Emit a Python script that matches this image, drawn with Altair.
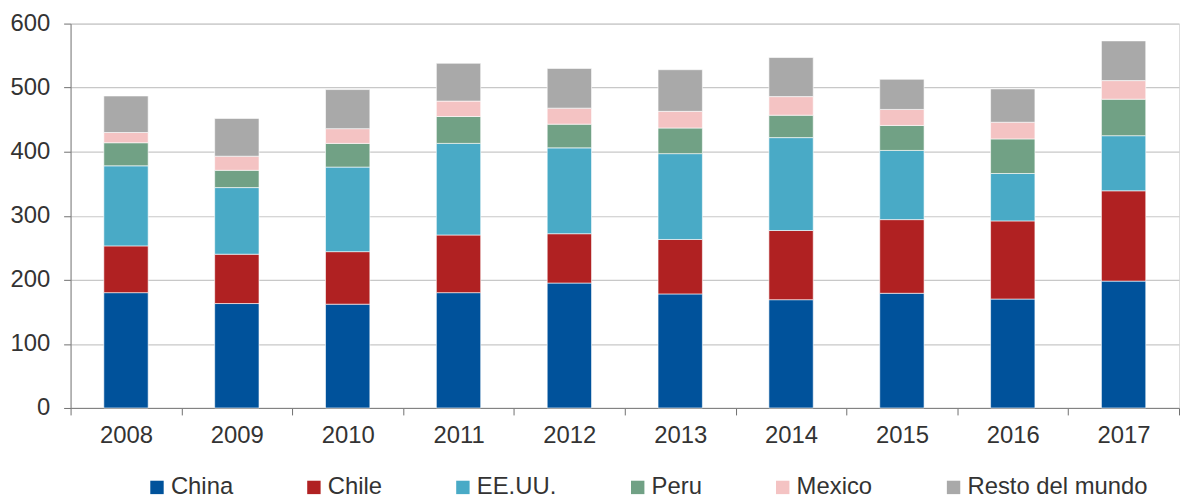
import altair as alt
import pandas as pd

years = ["2008", "2009", "2010", "2011", "2012", "2013", "2014", "2015", "2016", "2017"]
series = ["China", "Chile", "EE.UU.", "Peru", "Mexico", "Resto del mundo"]
china = [180, 163, 162, 180, 195, 178, 169, 179, 170, 198]
chile = [73, 77, 82, 90, 77, 85, 108, 115, 122, 141]
eeuu = [125, 104, 132, 143, 134, 134, 145, 108, 74, 86]
peru = [36, 27, 37, 42, 37, 40, 35, 39, 54, 57]
mexico = [16, 22, 23, 24, 25, 26, 29, 25, 26, 29]
resto = [57, 59, 61, 59, 62, 65, 61, 47, 52, 62]
colors = ["#00529B", "#B02122", "#49AAC6", "#71A185", "#F4C3C3", "#A9A9A9"]

values = [china, chile, eeuu, peru, mexico, resto]
rows = []
for si, (name, vals) in enumerate(zip(series, values)):
    for y, v in zip(years, vals):
        rows.append({"year": y, "series": name, "value": v, "order": si})
df = pd.DataFrame(rows)

font = "Liberation Sans"

chart = alt.Chart(df).mark_bar(stroke="white", strokeWidth=0.6,
                               width=alt.RelativeBandSize(0.4)).encode(
    x=alt.X("year:N", title=None, sort=years,
            scale=alt.Scale(paddingInner=0, paddingOuter=0),
            axis=alt.Axis(labelAngle=0, labelFontSize=24, labelColor="#333333",
                          labelFont=font, tickBand="extent", tickSize=7,
                          tickColor="#707070", domainColor="#808080",
                          labelPadding=9, grid=False)),
    y=alt.Y("value:Q", title=None, stack="zero",
            scale=alt.Scale(domain=[0, 600], nice=False),
            axis=alt.Axis(values=[0, 100, 200, 300, 400, 500, 600], labelFontSize=24,
                          labelColor="#333333", labelFont=font, tickSize=7,
                          tickColor="#707070", domainColor="#808080",
                          labelPadding=14, gridColor="#c8c8c8", gridWidth=1.2)),
    color=alt.Color("series:N", sort=series,
                    scale=alt.Scale(domain=series, range=colors),
                    legend=alt.Legend(title=None, orient="none", direction="horizontal",
                                      legendX=75, legendY=455, symbolType="square",
                                      symbolSize=182, symbolStrokeWidth=0,
                                      labelFontSize=24, labelFont=font,
                                      labelColor="#333333", labelOffset=2,
                                      labelLimit=400,
                                      columnPadding=69, padding=0)),
    order=alt.Order("order:Q", sort="ascending"),
).properties(
    width=1116, height=387,
    autosize=alt.AutoSizeParams(type="none"),
    padding={"left": 63, "top": 14, "right": 2, "bottom": 94},
).configure_view(stroke=None).configure(font=font)

chart.save("out.html", embed_options={"renderer": "svg", "actions": False})
